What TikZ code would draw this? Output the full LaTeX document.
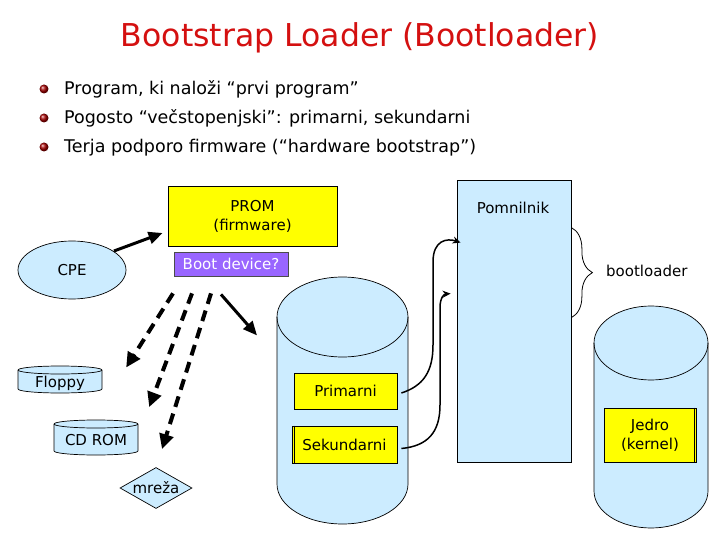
\documentclass[tikz,border=0pt]{standalone}
\usepackage{fontspec}
\setmainfont{DejaVu Sans}
\usetikzlibrary{arrows.meta,shapes.geometric,decorations.pathreplacing,calc}
\definecolor{lblue}{RGB}{204,236,255}
\definecolor{titred}{RGB}{212,16,16}
\definecolor{bootpurple}{RGB}{153,102,255}
\definecolor{pyellow}{RGB}{255,255,0}
\newcommand\mycyl[5]{%
  \pgfmathsetmacro\cxr{(#2-#1)/2}%
  \filldraw[cylstyle] (#1,-#3) -- (#1,-#4) arc[start angle=180,end angle=360,x radius=\cxr,y radius=#5] -- (#2,-#3) arc[start angle=0,end angle=180,x radius=\cxr,y radius=#5] -- cycle;
  \draw[cylstyle,fill=none] (#1,-#3) arc[start angle=180,end angle=360,x radius=\cxr,y radius=#5];
}
\tikzset{
  cylstyle/.style={fill=lblue,draw=black,line width=0.7pt},
  lbl/.style={font=\fontsize{15}{19}\selectfont,align=center,inner sep=0pt},
  ybox/.style={draw=black,line width=0.8pt,fill=pyellow,inner sep=0pt,font=\fontsize{15}{19}\selectfont,align=center},
  bul/.style={font=\fontsize{17.5}{21}\selectfont,anchor=base west,inner sep=0pt},
  dasharr/.style={line width=4pt,dash pattern=on 11pt off 7pt,-{Triangle[length=15pt,width=14pt]}},
  solarr/.style={line width=3pt,-{Triangle[length=14pt,width=12pt]}},
  thinarr/.style={line width=1.5pt,-{Stealth[length=8pt,width=7pt]}},
}
\begin{document}
\begin{tikzpicture}[x=1pt,y=1pt]
\useasboundingbox (0,0) rectangle (720,-540);
% title
\node[font=\fontsize{31.5}{36}\selectfont,text=titred,anchor=base,inner sep=0pt] (title) at (360,-47) {Bootstrap Loader (Bootloader)};
% bullets
\foreach \yy in {89,118,147}{\shade[ball color=red!65!black] (44,-\yy) circle (4.5);}
\node[bul] (b1) at (64,-95) {Program, ki naloži “prvi program”};
\node[bul] (b2) at (64,-124) {Pogosto “večstopenjski”: primarni, sekundarni};
\node[bul] (b3) at (64,-153) {Terja podporo firmware (“hardware bootstrap”)};
% cylinders
\mycyl{277}{408}{317}{484}{40}
\mycyl{594}{708}{343}{491}{37}
\mycyl{18}{102}{370}{389}{4}
\mycyl{54}{138}{424}{451}{4}
\node[lbl] (floppy) at (60,-383) {Floppy};
\node[lbl] (cdrom) at (96,-440) {CD ROM};
% memory
\node[draw=black,line width=0.8pt,fill=lblue,minimum width=114pt,minimum height=282pt,inner sep=0pt] (pom) at (514,-321) {};
\node[lbl] (pomlabel) at (513,-208) {Pomnilnik};
\draw[line width=0.8pt,decorate,decoration={brace,amplitude=21pt}] ($(pom.north east)+(0,-48)$) -- ($(pom.north east)+(0,-138)$);
\node[lbl,anchor=west] (bl) at (606,-271) {bootloader};
% PROM
\node[ybox,minimum width=169pt,minimum height=60pt] (prom) at (252.5,-216) {PROM\\(firmware)};
\node[draw=black!70,line width=0.8pt,fill=bootpurple,text=white,minimum width=114pt,minimum height=24pt,inner sep=0pt,font=\fontsize{15}{19}\selectfont] (boot) at (231,-264) {Boot device?};
% CPE
\node[ellipse,draw=black,line width=0.7pt,fill=lblue,minimum width=108pt,minimum height=58pt,inner sep=0pt,font=\fontsize{15}{19}\selectfont] (cpe) at (72,-270) {CPE};
% mreza
\node[diamond,draw=black,line width=0.7pt,fill=lblue,aspect=1.75,minimum width=72pt,minimum height=41pt,inner sep=0pt,font=\fontsize{15}{19}\selectfont] (mreza) at (156,-488) {mreža};
% yellow boxes
\node[ybox,minimum width=103pt,minimum height=36pt] (prim) at (345.5,-391) {Primarni};
\node[ybox,minimum width=105pt,minimum height=37pt] (sek) at (344.5,-444.5) {Sekundarni};
\draw[line width=0.6pt] ($(sek.north west)+(2.5,0)$) -- ($(sek.south west)+(2.5,0)$);
\node[ybox,minimum width=92pt,minimum height=54pt] (jedro) at (650,-435) {Jedro\\(kernel)};
\draw[line width=0.6pt] ($(jedro.north east)+(-2.5,0)$) -- ($(jedro.south east)+(-2.5,0)$);
% arrows
\draw[solarr] ($(cpe.center)+(42,19)$) -- ($(prom.west)+(-5,-17)$);
\draw[dasharr] ($(boot.south)+(-58,-17)$) -- ($(floppy.north east)+(41,8)$);
\draw[dasharr] ($(boot.south)+(-39,-17)$) -- ($(cdrom.north east)+(22,27)$);
\draw[dasharr] ($(boot.south)+(-20,-17)$) -- ($(mreza.north)+(6,18)$);
\draw[solarr] ($(boot.south)+(-10,-18)$) -- ($(boot.south)+(26,-59)$);
\draw[thinarr] ($(prim.east)+(4,-2)$) .. controls (423,-386) and (433,-372) .. (433,-345) -- (433,-262) .. controls (433,-240) and (447,-238) .. ($(pom.north west)+(4,-63)$);
\draw[thinarr] ($(sek.east)+(4,-4)$) .. controls (428,-446) and (440,-432) .. (440,-405) -- (440,-308) .. controls (440,-296) and (445,-294) .. ($(pom.north west)+(-6,-114)$);
\end{tikzpicture}
\end{document}
